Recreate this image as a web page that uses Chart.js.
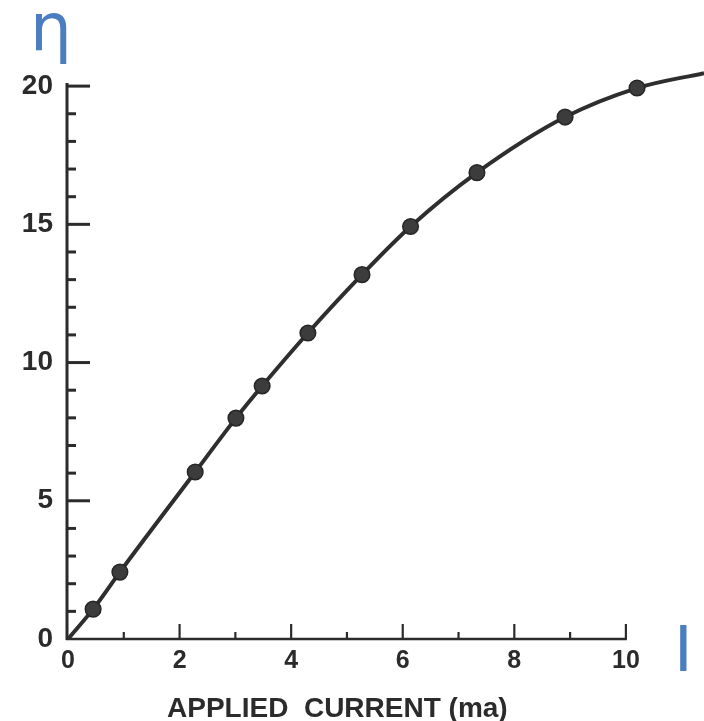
<!DOCTYPE html>
<html><head><meta charset="utf-8">
<style>html,body{margin:0;padding:0;background:#fff;}#wrap{width:704px;height:721px;}</style>
<script src="https://cdn.jsdelivr.net/npm/chart.js@4.4.1/dist/chart.umd.min.js"></script>
</head><body><div id="wrap"><canvas id="c" width="704" height="721"></canvas></div>
<script>
// ---- data ----
const curveX = [0, 0.45, 0.93, 2.28, 3.01, 3.48, 4.30, 5.27, 6.14, 7.33, 8.91, 10.20, 11.40];
const curveY = [0, 1.08, 2.42, 6.04, 7.99, 9.15, 11.07, 13.18, 14.92, 16.87, 18.88, 19.93, 20.47];
const markerShown = [false, true, true, true, true, true, true, true, true, true, true, true, false];
const xTickValues = [0, 2, 4, 6, 8, 10];
const xTickLabels = ['0', '2', '4', '6', '8', '10'];
const xMinorTicks = [1, 3, 5, 7, 9];
const yTickValues = [0, 5, 10, 15, 20];
const yTickLabels = ['0', '5', '10', '15', '20'];
const yMinorTicks = [1, 2, 3, 4, 6, 7, 8, 9, 11, 12, 13, 14, 16, 17, 18, 19];
const xAxisTitle = 'APPLIED  CURRENT (ma)';
const ySymbol = 'η';
const xSymbol = 'I';

const ink = '#2b2b2b';
const blue = '#4a7ec1';
const fontFam = '"Liberation Sans", Arial, sans-serif';

const handAxes = {
  id: 'handAxes',
  beforeDatasetsDraw(chart) {
    const {ctx, scales: {x, y}} = chart;
    const x0 = x.getPixelForValue(0), y0 = y.getPixelForValue(0);
    ctx.save();
    ctx.strokeStyle = ink;
    ctx.lineCap = 'butt';
    ctx.lineWidth = 3;
    ctx.beginPath();
    ctx.moveTo(x0 - 1, y0 + 1);
    ctx.lineTo(x0 - 1, y.getPixelForValue(20) - 3);
    ctx.stroke();
    ctx.lineWidth = 2.5;
    ctx.beginPath();
    ctx.moveTo(x0 - 2, y0);
    ctx.lineTo(x.getPixelForValue(10) + 1, y0);
    ctx.stroke();
    ctx.lineWidth = 3;
    yTickValues.forEach(v => {
      if (v === 0) return;
      const p = y.getPixelForValue(v);
      ctx.beginPath(); ctx.moveTo(x0, p); ctx.lineTo(x0 + 22, p); ctx.stroke();
    });
    yMinorTicks.forEach(v => {
      const p = y.getPixelForValue(v);
      ctx.beginPath(); ctx.moveTo(x0, p); ctx.lineTo(x0 + 8, p); ctx.stroke();
    });
    ctx.lineWidth = 2.2;
    xTickValues.forEach(v => {
      if (v === 0) return;
      const p = x.getPixelForValue(v);
      ctx.beginPath(); ctx.moveTo(p, y0); ctx.lineTo(p, y0 - 15); ctx.stroke();
    });
    xMinorTicks.forEach(v => {
      const p = x.getPixelForValue(v);
      ctx.beginPath(); ctx.moveTo(p, y0); ctx.lineTo(p, y0 - 7); ctx.stroke();
    });
    ctx.restore();
  },
  afterDraw(chart) {
    const {ctx} = chart;
    ctx.save();
    ctx.fillStyle = ink;
    ctx.textAlign = 'left';
    ctx.textBaseline = 'alphabetic';
    ctx.font = 'bold 28px ' + fontFam;
    ctx.fillText(xAxisTitle, 167, 717);
    ctx.fillStyle = blue;
    ctx.font = '66px "DejaVu Sans"';
    ctx.fillText(ySymbol, 30, 50);
    ctx.font = '67px "Liberation Sans"';
    ctx.fillText(xSymbol, 674, 671);
    ctx.restore();
  }
};

new Chart(document.getElementById('c'), {
  type: 'line',
  data: {
    datasets: [{
      data: curveX.map((v, i) => ({x: v, y: curveY[i]})),
      borderColor: '#2e2e2e',
      borderWidth: 4,
      cubicInterpolationMode: 'monotone',
      pointRadius: markerShown.map(s => s ? 7.8 : 0),
      pointBackgroundColor: '#3c3c3c',
      pointBorderColor: '#262626',
      pointBorderWidth: 1.5,
      fill: false
    }]
  },
  options: {
    responsive: false,
    animation: false,
    devicePixelRatio: 1,
    layout: {padding: {left: 0, right: 0, top: 64, bottom: 0}},
    plugins: {
      legend: {display: false},
      tooltip: {enabled: false}
    },
    scales: {
      x: {
        type: 'linear',
        min: 0, max: 11.4,
        grid: {display: false, drawTicks: false},
        border: {display: false},
        afterBuildTicks: s => { s.ticks = xTickValues.map(v => ({value: v})); },
        afterFit: s => { s.height = 82; },
        ticks: {
          autoSkip: false,
          maxRotation: 0,
          padding: 7,
          color: ink,
          font: {family: fontFam, size: 25, weight: 'bold'},
          callback: (v) => { const i = xTickValues.indexOf(v); return i >= 0 ? xTickLabels[i] : ''; }
        }
      },
      y: {
        type: 'linear',
        min: 0, max: 20.8,
        grid: {display: false, drawTicks: false},
        border: {display: false},
        afterBuildTicks: s => { s.ticks = yTickValues.map(v => ({value: v})); },
        afterFit: s => { s.width = 68; },
        ticks: {
          autoSkip: false,
          padding: 15,
          color: ink,
          font: {family: fontFam, size: 28, weight: 'bold'},
          callback: (v) => { const i = yTickValues.indexOf(v); return i >= 0 ? yTickLabels[i] : ''; }
        }
      }
    }
  },
  plugins: [handAxes]
});
</script></body></html>
